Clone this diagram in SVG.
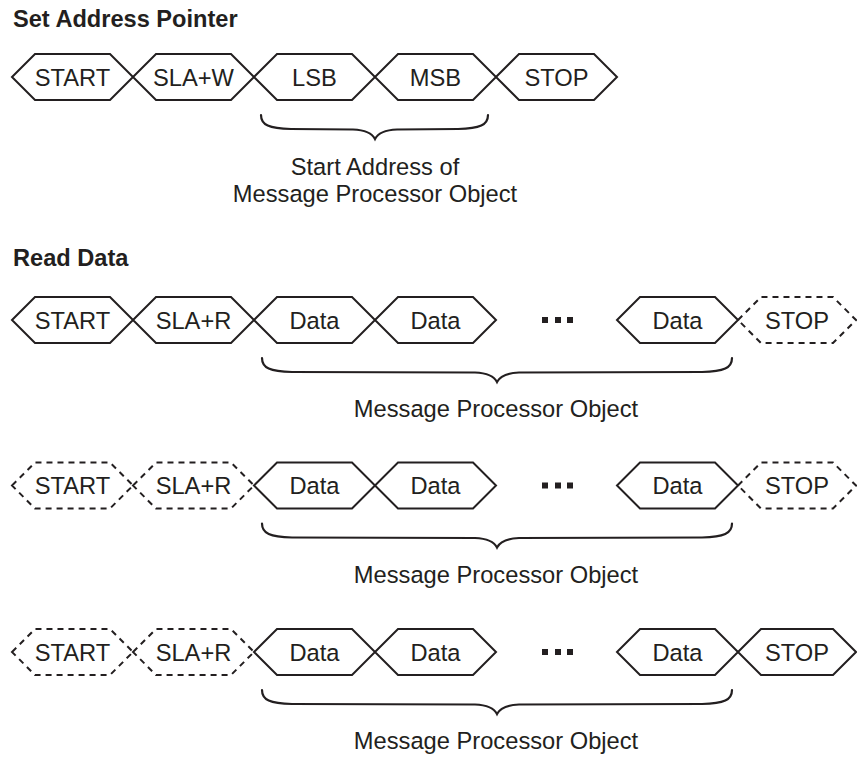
<svg xmlns="http://www.w3.org/2000/svg" width="857" height="758" viewBox="0 0 857 758">
<style>
.hex{fill:none;stroke:#231f20;stroke-width:2;stroke-linejoin:miter}
.dash{fill:none;stroke:#231f20;stroke-width:2;stroke-dasharray:6 5}
.lbl{font-family:"Liberation Sans",Arial,sans-serif;font-size:23.7px;fill:#231f20;text-anchor:middle}
.title{font-family:"Liberation Sans",Arial,sans-serif;font-size:23.6px;font-weight:bold;fill:#231f20}
.brace{fill:none;stroke:#231f20;stroke-width:2.2;stroke-linecap:round}
.dot{fill:#231f20}
</style>
<rect width="857" height="758" fill="#ffffff"/>
<text class="title" x="13" y="27">Set Address Pointer</text>
<text class="title" x="13" y="266">Read Data</text>

<!-- Row 1 -->
<g id="r1-start"><polygon class="hex" points="12,77 35,54 110,54 133,77 110,100 35,100"/><text class="lbl" x="72.5" y="85.5">START</text></g>
<g id="r1-sla"><polygon class="hex" points="133,77 156,54 231,54 254,77 231,100 156,100"/><text class="lbl" x="193.5" y="85.5">SLA+W</text></g>
<g id="r1-lsb"><polygon class="hex" points="254,77 277,54 352,54 375,77 352,100 277,100"/><text class="lbl" x="314.5" y="85.5">LSB</text></g>
<g id="r1-msb"><polygon class="hex" points="375,77 398,54 473,54 496,77 473,100 398,100"/><text class="lbl" x="435.5" y="85.5">MSB</text></g>
<g id="r1-stop"><polygon class="hex" points="496,77 519,54 594,54 617,77 594,100 519,100"/><text class="lbl" x="556.5" y="85.5">STOP</text></g>

<!-- Row 2 -->
<g id="r2-start"><polygon class="hex" points="12,320 35,297 110,297 133,320 110,343 35,343"/><text class="lbl" x="72.5" y="328.5">START</text></g>
<g id="r2-sla"><polygon class="hex" points="133,320 156,297 231,297 254,320 231,343 156,343"/><text class="lbl" x="193.5" y="328.5">SLA+R</text></g>
<g id="r2-data1"><polygon class="hex" points="254,320 277,297 352,297 375,320 352,343 277,343"/><text class="lbl" x="314.5" y="328.5">Data</text></g>
<g id="r2-data2"><polygon class="hex" points="375,320 398,297 473,297 496,320 473,343 398,343"/><text class="lbl" x="435.5" y="328.5">Data</text></g>
<g id="r2-dots"><rect class="dot" x="542" y="317" width="6" height="6"/><rect class="dot" x="555" y="317" width="6" height="6"/><rect class="dot" x="567" y="317" width="6" height="6"/></g>
<g id="r2-data3"><polygon class="hex" points="617,320 640,297 715,297 738,320 715,343 640,343"/><text class="lbl" x="677.5" y="328.5">Data</text></g>
<g id="r2-stop"><polygon class="dash" points="738,320 761,297 833,297 856,320 833,343 761,343"/><text class="lbl" x="797" y="328.5">STOP</text></g>

<!-- Row 3 -->
<g id="r3-start"><polygon class="dash" points="12,485.5 35,462.5 110,462.5 133,485.5 110,508.5 35,508.5"/><text class="lbl" x="72.5" y="494">START</text></g>
<g id="r3-sla"><polygon class="dash" points="133,485.5 156,462.5 231,462.5 254,485.5 231,508.5 156,508.5"/><text class="lbl" x="193.5" y="494">SLA+R</text></g>
<g id="r3-data1"><polygon class="hex" points="254,485.5 277,462.5 352,462.5 375,485.5 352,508.5 277,508.5"/><text class="lbl" x="314.5" y="494">Data</text></g>
<g id="r3-data2"><polygon class="hex" points="375,485.5 398,462.5 473,462.5 496,485.5 473,508.5 398,508.5"/><text class="lbl" x="435.5" y="494">Data</text></g>
<g id="r3-dots"><rect class="dot" x="542" y="482.5" width="6" height="6"/><rect class="dot" x="555" y="482.5" width="6" height="6"/><rect class="dot" x="567" y="482.5" width="6" height="6"/></g>
<g id="r3-data3"><polygon class="hex" points="617,485.5 640,462.5 715,462.5 738,485.5 715,508.5 640,508.5"/><text class="lbl" x="677.5" y="494">Data</text></g>
<g id="r3-stop"><polygon class="dash" points="738,485.5 761,462.5 833,462.5 856,485.5 833,508.5 761,508.5"/><text class="lbl" x="797" y="494">STOP</text></g>

<!-- Row 4 -->
<g id="r4-start"><polygon class="dash" points="12,652 35,629 110,629 133,652 110,675 35,675"/><text class="lbl" x="72.5" y="660.5">START</text></g>
<g id="r4-sla"><polygon class="dash" points="133,652 156,629 231,629 254,652 231,675 156,675"/><text class="lbl" x="193.5" y="660.5">SLA+R</text></g>
<g id="r4-data1"><polygon class="hex" points="254,652 277,629 352,629 375,652 352,675 277,675"/><text class="lbl" x="314.5" y="660.5">Data</text></g>
<g id="r4-data2"><polygon class="hex" points="375,652 398,629 473,629 496,652 473,675 398,675"/><text class="lbl" x="435.5" y="660.5">Data</text></g>
<g id="r4-dots"><rect class="dot" x="542" y="649" width="6" height="6"/><rect class="dot" x="555" y="649" width="6" height="6"/><rect class="dot" x="567" y="649" width="6" height="6"/></g>
<g id="r4-data3"><polygon class="hex" points="617,652 640,629 715,629 738,652 715,675 640,675"/><text class="lbl" x="677.5" y="660.5">Data</text></g>
<g id="r4-stop"><polygon class="hex" points="738,652 761,629 833,629 856,652 833,675 761,675"/><text class="lbl" x="797" y="660.5">STOP</text></g>

<!-- Braces -->
<g id="braces">
<path class="brace" d="M261,115 C261,125 269,128.5 291,129 L353,129.5 C365,130 372,133 375,139 C378,133 385,130 397,129.5 L458,129 C480,128.5 488,125 488,115"/>
<path class="brace" d="M262,358 C262,368 270,371.5 292,372 L475,372.5 C487,373 494,376 497,382 C500,376 507,373 519,372.5 L702,372 C724,371.5 732,368 732,358"/>
<path class="brace" d="M262,523.5 C262,533.5 270,537 292,537.5 L475,538 C487,538.5 494,541.5 497,547.5 C500,541.5 507,538.5 519,538 L702,537.5 C724,537 732,533.5 732,523.5"/>
<path class="brace" d="M262,690 C262,700 270,703.5 292,704 L475,704.5 C487,705 494,708 497,714 C500,708 507,705 519,704.5 L702,704 C724,703.5 732,700 732,690"/>
</g>

<g id="labels">
<text class="lbl" x="375" y="175">Start Address of</text>
<text class="lbl" x="375" y="202">Message Processor Object</text>
<text class="lbl" x="496" y="417">Message Processor Object</text>
<text class="lbl" x="496" y="582.5">Message Processor Object</text>
<text class="lbl" x="496" y="749">Message Processor Object</text>
</g>
</svg>
